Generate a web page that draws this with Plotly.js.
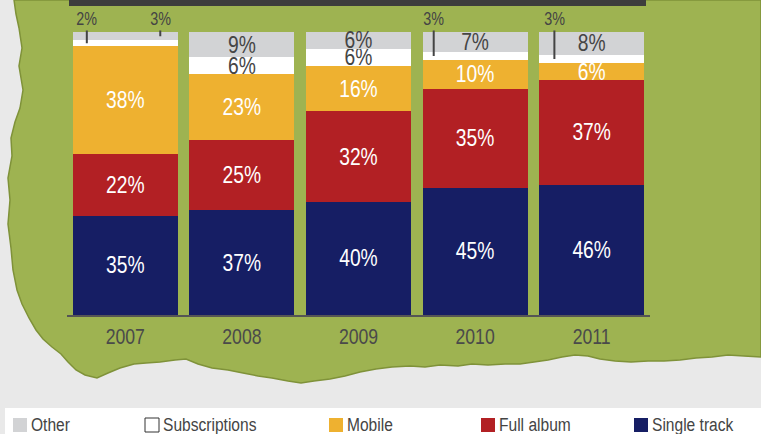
<!DOCTYPE html>
<html>
<head>
<meta charset="utf-8">
<script src="https://cdn.plot.ly/plotly-3.0.1.min.js"></script>
<style>
html,body{margin:0;padding:0;background:#e9e9e9;}
#chart{width:761px;height:434px;}
</style>
</head>
<body>
<div id="chart"></div>
<script>
// ---- data ----
const years = ['2007', '2008', '2009', '2010', '2011'];
const singleTrack = [35, 37, 40, 45, 46];
const fullAlbum = [22, 25, 32, 35, 37];
const mobile = [38, 23, 16, 10, 6];
const subscriptions = [2, 6, 6, 3, 3];
const other = [3, 9, 6, 7, 8];
const seriesNames = ['Single track', 'Full album', 'Mobile', 'Subscriptions', 'Other'];

// ---- style ----
const FONT = '"Liberation Sans", Arial, sans-serif';
const CONDENSE = 0.82; // narrow the glyphs horizontally to mimic a condensed face
const colors = {
  'Single track': '#161e64',
  'Full album': '#b22024',
  'Mobile': '#eeb130',
  'Subscriptions': '#ffffff',
  'Other': '#d2d3d5'
};
const textColors = {
  'Single track': '#ffffff',
  'Full album': '#ffffff',
  'Mobile': '#ffffff',
  'Subscriptions': '#454545',
  'Other': '#454545'
};
// labels drawn as call-outs above the bar instead of inside
const callouts = [
  {series: 'Subscriptions', year: '2007', dx: -0.33},
  {series: 'Other', year: '2007', dx: 0.30},
  {series: 'Subscriptions', year: '2010', dx: -0.355},
  {series: 'Subscriptions', year: '2011', dx: -0.32}
];

const W = 761, H = 434;
const valuesBy = {
  'Single track': singleTrack,
  'Full album': fullAlbum,
  'Mobile': mobile,
  'Subscriptions': subscriptions,
  'Other': other
};

const traces = seriesNames.map(name => {
  const vals = valuesBy[name];
  const text = vals.map((v, i) => {
    const hidden = callouts.some(c => c.series === name && c.year === years[i]);
    return hidden ? '' : v + '%';
  });
  return {
    type: 'bar',
    name: name,
    x: years,
    y: vals,
    text: text,
    textposition: 'inside',
    insidetextanchor: 'middle',
    textangle: 0,
    constraintext: 'none',
    textfont: {family: FONT, size: 23.5, color: textColors[name]},
    marker: {color: colors[name], line: {width: 0}},
    hoverinfo: 'skip',
    cliponaxis: false
  };
});

// call-out annotations
const annotations = callouts.map(c => {
  const idx = years.indexOf(c.year);
  const order = seriesNames.indexOf(c.series);
  let base = 0;
  for (let k = 0; k < order; k++) base += valuesBy[seriesNames[k]][idx];
  const v = valuesBy[c.series][idx];
  return {
    x: idx + c.dx, y: base + v / 2,
    xref: 'x', yref: 'y',
    ax: idx + c.dx, ay: 104.6,
    axref: 'x', ayref: 'y',
    text: v + '%',
    showarrow: true, arrowhead: 0, arrowwidth: 2, arrowcolor: '#444',
    standoff: 0, startstandoff: 0,
    font: {family: FONT, size: 17.5, color: '#444'}
  };
});

// pixel -> paper helpers (margins are zero so paper == full figure)
const px = x => x / W;
const py = y => 1 - y / H;

// custom legend (Other ... Single track, left to right)
const legendOrder = seriesNames.slice().reverse();
const legendSquareX = [13, 145, 329, 481, 634];
const shapes = [];

// green torn-paper background
const greenPts = [
  [14,0],[16,14],[19,28],[22,48],[19,66],[23,90],[20,108],[15,122],[11,138],[12,156],[8,178],[10,200],
  [8,224],[11,248],[13,270],[17,290],[22,304],[29,318],[36,330],[43,339],[52,347],[61,354],[68,362],
  [76,370],[85,375],[97,378],[108,373],[120,368],[134,364],[146,363],[160,362],[175,360],[186,359],
  [198,364],[212,368],[228,370],[243,373],[258,376],[272,378],[288,381],[301,383],[314,381],[330,379],
  [345,376],[360,372],[376,369],[392,367],[410,366],[425,367],[440,365],[458,366],[472,364],[488,365],
  [505,364],[520,364],[534,362],[548,360],[562,357],[575,355],[588,356],[600,359],[615,361],[631,362],
  [648,361],[664,361],[680,360],[696,358],[712,357],[728,355],[744,356],[761,357],[761,0]
];
let path = 'M ' + greenPts.map(p => px(p[0]).toFixed(5) + ',' + py(p[1]).toFixed(5)).join(' L ') + ' Z';
shapes.push({type: 'path', xref: 'paper', yref: 'paper', path: path,
  fillcolor: '#9eb351', line: {color: '#7f9239', width: 1.5}, layer: 'below'});

// dark title strip at top
shapes.push({type: 'rect', xref: 'paper', yref: 'paper',
  x0: px(69), x1: px(646), y0: py(0), y1: py(6),
  fillcolor: '#3d3d3d', line: {width: 0}, layer: 'below'});

// white legend strip
shapes.push({type: 'rect', xref: 'paper', yref: 'paper',
  x0: px(5), x1: px(761), y0: py(408), y1: py(434),
  fillcolor: '#ffffff', line: {width: 0}, layer: 'below'});

legendOrder.forEach((name, i) => {
  const x0 = legendSquareX[i];
  const isWhite = name === 'Subscriptions';
  shapes.push({type: 'rect', xref: 'paper', yref: 'paper',
    x0: px(x0), x1: px(x0 + 14), y0: py(418), y1: py(432),
    fillcolor: colors[name],
    line: isWhite ? {color: '#333', width: 1} : {width: 0}, layer: 'above'});
  annotations.push({xref: 'paper', yref: 'paper', x: px(x0 + 17), y: py(424),
    xanchor: 'left', yanchor: 'middle', align: 'left', borderpad: 0,
    showarrow: false, text: name,
    font: {family: FONT, size: 19, color: '#444'}});
});

const layout = {
  width: W, height: H, autosize: false,
  margin: {l: 0, r: 0, t: 0, b: 0, pad: 0},
  paper_bgcolor: '#e9e9e9',
  plot_bgcolor: 'rgba(0,0,0,0)',
  barmode: 'stack',
  bargap: 0.1,
  showlegend: false,
  xaxis: {
    type: 'category',
    domain: [67 / W, 650 / W],
    showline: true, linecolor: '#555', linewidth: 2,
    ticks: '', showgrid: false, zeroline: false,
    tickfont: {family: FONT, size: 21.5, color: '#4a4a4a'},
    ticklabelstandoff: 1,
    fixedrange: true
  },
  yaxis: {
    range: [0, 100],
    domain: [1 - 315 / H, 1 - 32 / H],
    visible: false, showgrid: false, zeroline: false,
    fixedrange: true
  },
  shapes: shapes,
  annotations: annotations,
  font: {family: FONT}
};

function condense(gd) {
  gd.querySelectorAll('svg text').forEach(t => {
    if (!t.textContent) return;
    let bb;
    try { bb = t.getBBox(); } catch (e) { return; }
    const anchor = t.getAttribute('text-anchor') || 'start';
    let cx;
    if (anchor === 'middle') cx = bb.x + bb.width / 2;
    else if (anchor === 'end') cx = bb.x + bb.width;
    else cx = bb.x;
    const prev = t.getAttribute('transform') || '';
    t.setAttribute('transform', (prev + ' translate(' + cx + ',0) scale(' + CONDENSE + ',1) translate(' + (-cx) + ',0)').trim());
  });
}

Plotly.newPlot('chart', traces, layout, {displayModeBar: false, staticPlot: true}).then(condense);
</script>
</body>
</html>
